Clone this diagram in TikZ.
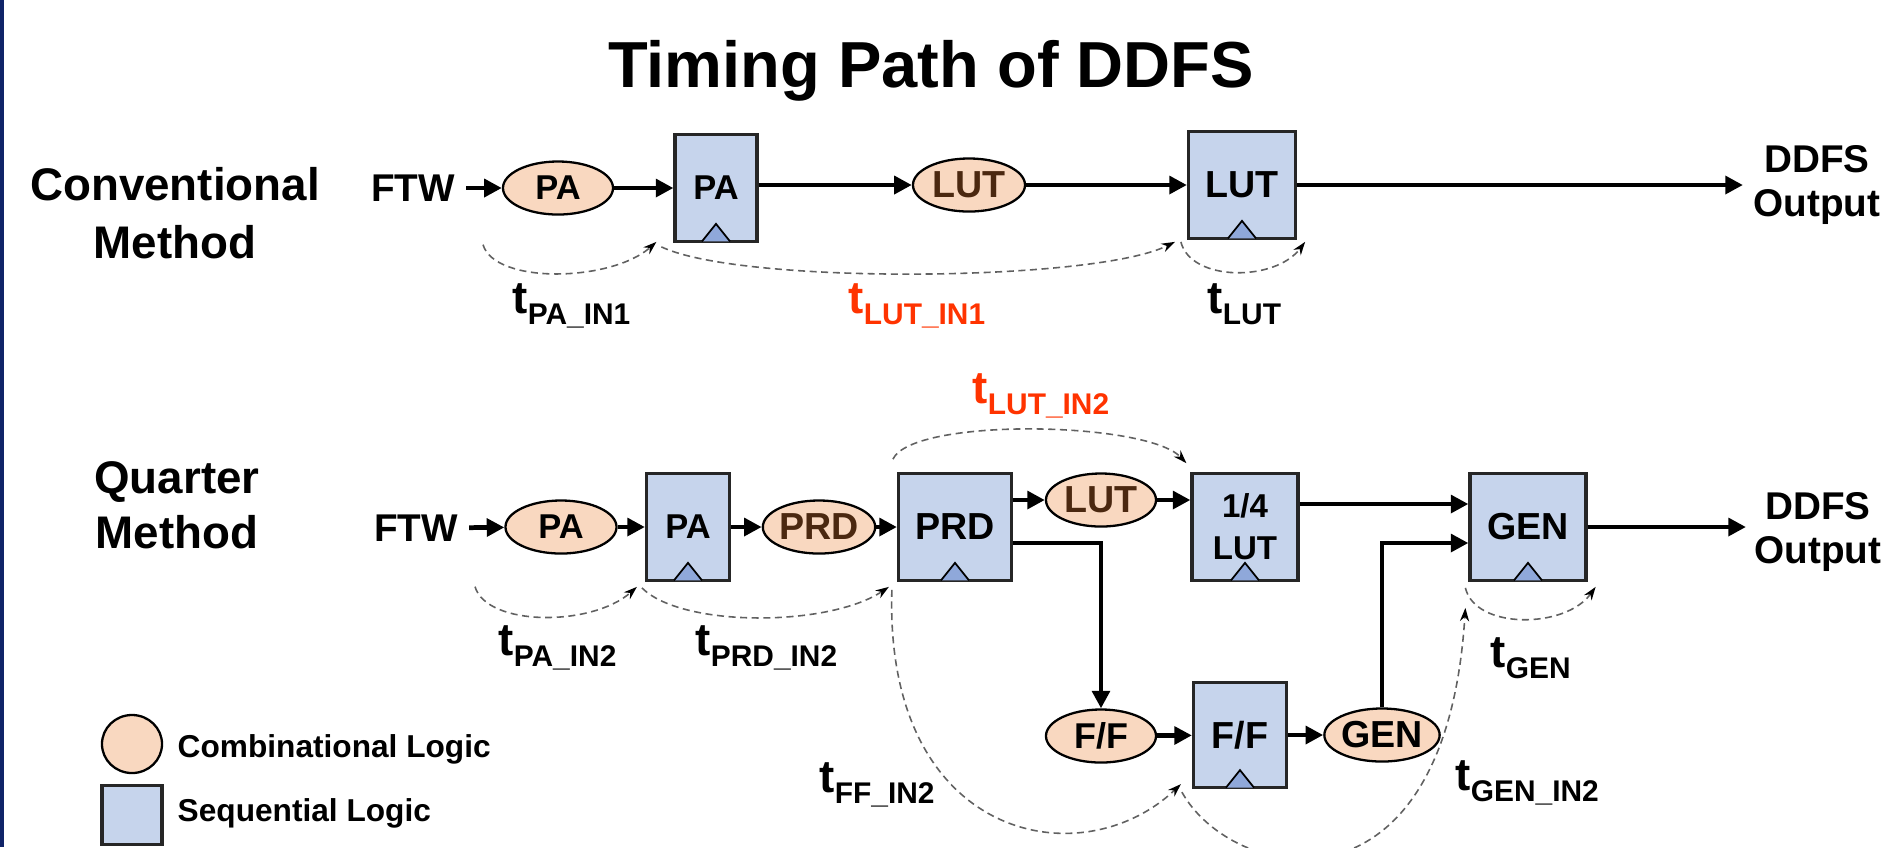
\documentclass[tikz,border=0pt]{standalone}
\usepackage{fontspec}
\setmainfont{Liberation Sans}
\usepackage{xcolor}
\usepackage{tikz}
\usetikzlibrary{calc,positioning,shapes.geometric,arrows.meta}

\definecolor{combfill}{RGB}{249,216,192}
\definecolor{seqfill}{RGB}{198,212,236}
\definecolor{clkfill}{RGB}{143,168,218}
\definecolor{delayred}{RGB}{255,51,0}
\definecolor{combtext}{RGB}{75,40,16}
\definecolor{navybar}{RGB}{16,36,104}

\newcommand{\tdel}[1]{{\fontsize{13}{15}\selectfont t}\raisebox{-3.4pt}{\fontsize{8.5}{10}\selectfont #1}}

\begin{document}
\begin{tikzpicture}[x=0.01cm, y=-0.01cm, >=Stealth,
    comb/.style={ellipse, draw=black, line width=0.65pt, fill=combfill, minimum width=1.1cm, minimum height=0.53cm, inner sep=0pt, font=\bfseries\fontsize{10.7}{12}\selectfont},
    seq/.style={rectangle, draw=black!85, line width=0.9pt, fill=seqfill, minimum height=1.065cm, inner sep=0pt, align=center, font=\bfseries\fontsize{10.7}{12}\selectfont},
    lbl/.style={inner sep=0pt, align=center, font=\bfseries\fontsize{11}{12.3}\selectfont},
    side/.style={inner sep=0pt, align=center, anchor=north, font=\bfseries\fontsize{13}{16.5}\selectfont},
    delay/.style={inner sep=0pt, anchor=base west, font=\bfseries},
    legtxt/.style={inner sep=0pt, anchor=base west, font=\bfseries\fontsize{9}{11}\selectfont},
    arrow/.style={-{Triangle[length=5pt,width=5pt]}, line width=1.35pt},
    timing/.style={-{Stealth[length=3.8pt,width=2.6pt,black]}, draw=black!62, line width=0.45pt, dash pattern=on 2pt off 1.3pt},
    clk/.style={draw=black, line width=0.5pt, fill=clkfill}]

    \useasboundingbox (0,0) rectangle (1887,847);
    \fill[navybar] (0,0) rectangle (4,847);

    \node[anchor=base, inner sep=0pt, font=\bfseries\fontsize{18.5}{22}\selectfont] (title) at (931,87) {Timing Path of DDFS};
    \node[side] (conv) at (175,167) {Conventional\\Method};
    \node[side, font=\bfseries\fontsize{13}{15.7}\selectfont] (quar) at (177,461) {Quarter\\Method};

    \node[lbl, inner xsep=3pt] (ftw1) at (413,188) {FTW};
    \node[comb, font=\bfseries\fontsize{9.8}{11}\selectfont] (pa1) at (558,188) {PA};
    \node[seq, minimum width=0.82cm, font=\bfseries\fontsize{9.8}{11}\selectfont] (par1) at (716,188) {PA};
    \node[comb, text=combtext, minimum width=1.12cm] (lut1) at (969,185) {LUT};
    \node[seq, minimum width=1.07cm] (lutr1) at (1242,185) {LUT};
    \node[lbl] (out1) at (1817,185) {DDFS\\Output};

    \node[lbl, inner xsep=3pt] (ftw2) at (416,528) {FTW};
    \node[comb, minimum width=1.11cm, font=\bfseries\fontsize{9.8}{11}\selectfont] (pa2) at (561,527) {PA};
    \node[seq, minimum width=0.83cm, font=\bfseries\fontsize{9.8}{11}\selectfont] (par2) at (688,527) {PA};
    \node[comb, text=combtext] (prd) at (819,527) {PRD};
    \node[seq, minimum width=1.13cm] (prdr) at (955,527) {PRD};
    \node[comb, text=combtext] (lutq) at (1101,500) {LUT};
    \node[seq, minimum width=1.06cm, font=\bfseries\fontsize{9.4}{12}\selectfont] (lutr2) at (1245,527) {1/4\\LUT};
    \node[seq, minimum width=1.16cm] (genr) at (1528,527) {GEN};
    \node[comb, font=\bfseries\fontsize{10.2}{12}\selectfont] (ffc) at (1101,736) {F/F};
    \node[seq, minimum width=0.93cm, minimum height=1.05cm] (ffr) at (1240,735) {F/F};
    \node[comb] (genc) at (1382,735) {GEN};
    \node[lbl, font=\bfseries\fontsize{11}{12.6}\selectfont] (out2) at (1818,532) {DDFS\\Output};

    \foreach \b in {par1,lutr1,par2,prdr,lutr2,ffr,genr}
        \draw[clk] ($(\b.south)+(-14,-1.5)$) -- ($(\b.south)+(0,-19)$) -- ($(\b.south)+(14,-1.5)$);

    \draw[arrow] (ftw1) -- (pa1);
    \draw[arrow] (pa1) -- (par1);
    \draw[arrow] (par1.east |- lut1) -- (lut1);
    \draw[arrow] (lut1) -- (lutr1);
    \draw[arrow] (lutr1) -- ($(out1.west |- lutr1)+(-10,0)$);

    \draw[arrow] (ftw2) -- (pa2);
    \draw[arrow] (pa2) -- (par2);
    \draw[arrow] (par2) -- (prd);
    \draw[arrow] (prd) -- (prdr);
    \draw[arrow] (prdr.east |- lutq) -- (lutq);
    \draw[arrow] (lutq) -- (lutq -| lutr2.west);
    \draw[arrow] ($(lutr2.east)+(0,-23)$) -- ($(genr.west)+(0,-23)$);
    \draw[arrow] ($(prdr.east)+(0,16)$) -| (ffc.north);
    \draw[arrow] (ffc) -- (ffr);
    \draw[arrow] (ffr) -- (genc);
    \draw[arrow] (genc.north) |- ($(genr.west)+(0,16)$);
    \draw[arrow] (genr) -- ($(out2.west |- genr)+(-8,0)$);

    \draw[timing] ($(pa1.south)+(-75,29)$) .. controls +(12,40) and +(-45,40) .. ($(par1.south west)+(-17,-1)$);
    \draw[timing] ($(par1.south west)+(-12,4)$) .. controls +(80,38) and +(-80,40) .. ($(lutr1.south west)+(-12,2)$);
    \draw[timing] ($(lutr1.south west)+(-6,2)$) .. controls +(10,40) and +(-30,40) .. ($(lutr1.south east)+(8,2)$);

    \draw[timing] ($(pa2.south)+(-86,32)$) .. controls +(12,40) and +(-45,40) .. ($(par2.south west)+(-8,5)$);
    \draw[timing] ($(par2.south west)+(-3,6)$) .. controls +(40,40) and +(-60,40) .. ($(prdr.south west)+(-8,5)$);
    \draw[timing] ($(prdr.north west)+(-4,-13)$) .. controls +(20,-42) and +(-40,-42) .. ($(lutr2.north west)+(-4,-9)$);
    \draw[timing] ($(prdr.south west)+(-5,8)$) .. controls +(-8,250) and +(-100,95) .. ($(ffr.south west)+(-11,-5)$);
    \draw[timing] ($(ffr.south west)+(-10,3)$) .. controls +(50,90) and +(-20,320) .. ($(genr.south west)+(-3,26)$);
    \draw[timing] ($(genr.south west)+(-3,6)$) .. controls +(10,42) and +(-30,42) .. ($(genr.south east)+(8,5)$);

    \node[delay] (dpa1) at (512,313) {\tdel{PA\_IN1}};
    \node[delay, text=delayred] (dlut1) at (848,313) {\tdel{LUT\_IN1}};
    \node[delay] (dlutr1) at (1207,313) {\tdel{LUT}};
    \node[delay] (dpa2) at (498,655) {\tdel{PA\_IN2}};
    \node[delay] (dprd2) at (695,655) {\tdel{PRD\_IN2}};
    \node[delay, text=delayred] (dlut2) at (972,403) {\tdel{LUT\_IN2}};
    \node[delay] (dff2) at (819,792) {\tdel{FF\_IN2}};
    \node[delay] (dgen) at (1490,667) {\tdel{GEN}};
    \node[delay] (dgen2) at (1455,790) {\tdel{GEN\_IN2}};

    \node[comb, minimum width=0.6cm, minimum height=0.58cm] (legc) at (132,744) {};
    \node[seq, minimum width=0.6cm, minimum height=0.59cm, line width=1.1pt] (legs) at (132,815) {};
    \node[legtxt] (legct) at (177,757) {Combinational Logic};
    \node[legtxt] (legst) at (177,821) {Sequential Logic};
\end{tikzpicture}
\end{document}
